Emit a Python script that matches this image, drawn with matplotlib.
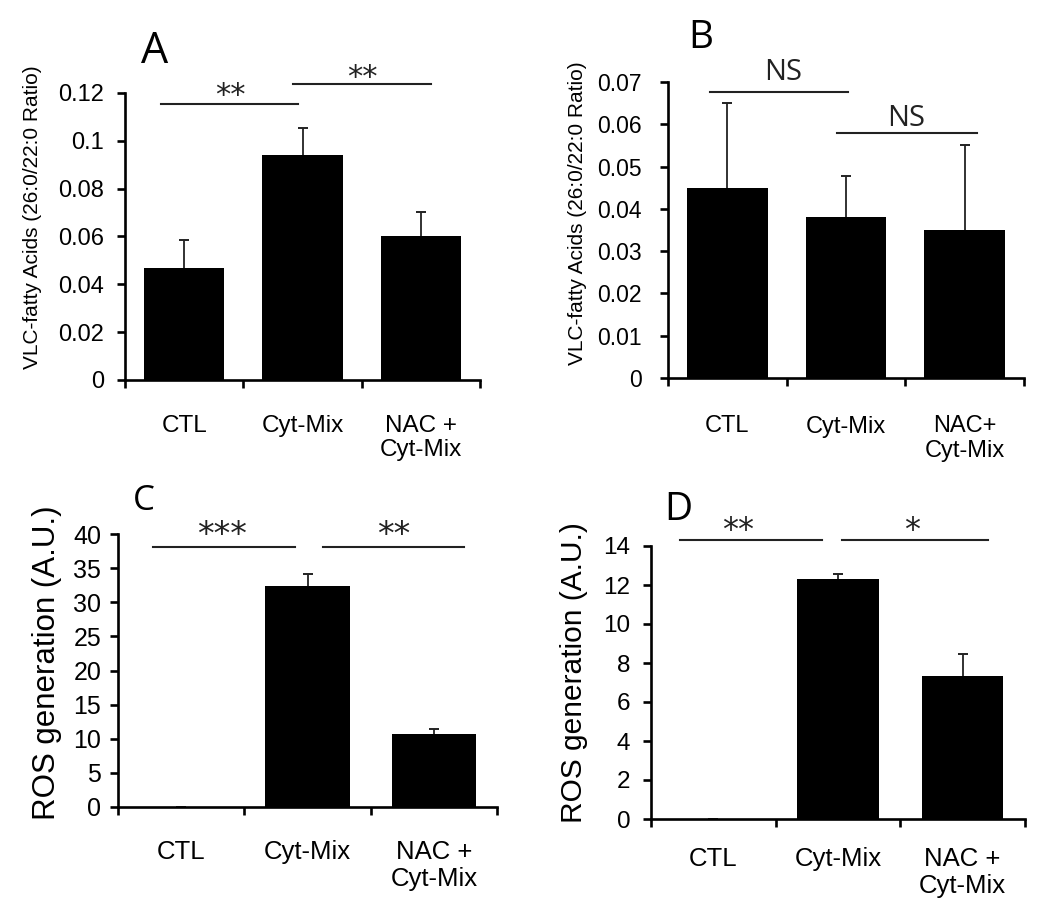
import matplotlib
matplotlib.use("Agg")
import matplotlib.pyplot as plt

plt.rcParams['font.family'] = ['Liberation Sans', 'DejaVu Sans']

# ---------------- data ----------------
groups_A = ["CTL", "Cyt-Mix", "NAC +\nCyt-Mix"]
groups_B = ["CTL", "Cyt-Mix", "NAC+\nCyt-Mix"]
groups_C = ["CTL", "Cyt-Mix", "NAC +\nCyt-Mix"]
groups_D = ["CTL", "Cyt-Mix", "NAC +\nCyt-Mix"]

vlc_A = [0.047, 0.094, 0.060]
vlc_A_err = [0.0117, 0.0114, 0.0104]
vlc_B = [0.045, 0.038, 0.035]
vlc_B_err = [0.020, 0.0097, 0.020]
ros_C = [0.0, 32.4, 10.7]
ros_C_err = [0.0, 1.7, 0.7]
ros_D = [0.0, 12.3, 7.35]
ros_D_err = [0.0, 0.26, 1.12]

yticks_A = [0, 0.02, 0.04, 0.06, 0.08, 0.1, 0.12]
yticks_B = [0, 0.01, 0.02, 0.03, 0.04, 0.05, 0.06, 0.07]
yticks_C = [0, 5, 10, 15, 20, 25, 30, 35, 40]
yticks_D = [0, 2, 4, 6, 8, 10, 12, 14]
ytlabels_A = ["0", "0.02", "0.04", "0.06", "0.08", "0.1", "0.12"]
ytlabels_B = ["0", "0.01", "0.02", "0.03", "0.04", "0.05", "0.06", "0.07"]
ytlabels_C = ["0", "5", "10", "15", "20", "25", "30", "35", "40"]
ytlabels_D = ["0", "2", "4", "6", "8", "10", "12", "14"]

ylabel_AB = "VLC-fatty Acids (26:0/22:0 Ratio)"
ylabel_CD = "ROS generation (A.U.)"

# significance annotations: start, end, height, text, text x
sig_A_x0 = [-0.20, 0.92]
sig_A_x1 = [0.96, 2.09]
sig_A_y = [0.1154, 0.1238]
sig_A_txt = ["**", "**"]
sig_A_tx = [0.39, 1.51]

sig_B_x0 = [-0.15, 0.92]
sig_B_x1 = [1.02, 2.10]
sig_B_y = [0.0676, 0.0579]
sig_B_txt = ["NS", "NS"]
sig_B_tx = [0.47, 1.51]

sig_C_x0 = [-0.22, 1.12]
sig_C_x1 = [0.90, 2.24]
sig_C_y = [38.1, 38.1]
sig_C_txt = ["***", "**"]
sig_C_tx = [0.32, 1.68]

sig_D_x0 = [-0.27, 1.03]
sig_D_x1 = [0.87, 2.20]
sig_D_y = [14.3, 14.3]
sig_D_txt = ["**", "*"]
sig_D_tx = [0.20, 1.59]

W, H = 1050, 902
fig = plt.figure(figsize=(W / 100, H / 100), dpi=100)


def rect(l, t, r, b):
    return [l / W, 1 - b / H, (r - l) / W, (b - t) / H]


def panel(box, groups, vals, errs, yt, ytl, ymax, bw, ytick_fs, xtick_fs,
          ypad, xpad, ylabel, ylab_fs, ylab_xy, sig, sig_font, sig_fs, sig_off):
    ax = fig.add_axes(rect(*box))
    x = list(range(len(groups)))
    lower = [0] * len(errs)
    ax.bar(x, vals, width=bw, color='black', zorder=2)
    _, caps, _ = ax.errorbar(x, vals, yerr=[lower, errs], fmt='none',
                             ecolor='#222222', elinewidth=1.3, capsize=3.8,
                             capthick=1.4, zorder=1)
    if len(caps) == 2:
        caps[0].set_visible(False)
    ax.set_xlim(-0.5, 2.5)
    ax.set_ylim(0, ymax)
    for s in ['top', 'right']:
        ax.spines[s].set_visible(False)
    for s in ['left', 'bottom']:
        ax.spines[s].set_linewidth(1.9)
    ax.set_yticks(yt)
    ax.set_yticklabels(ytl, fontsize=ytick_fs)
    ax.tick_params(axis='y', direction='out', length=6, width=1.9, pad=ypad)
    ax.set_xticks([-0.5, 0.5, 1.5, 2.5])
    ax.set_xticklabels([])
    ax.set_xticks(x, minor=True)
    ax.set_xticklabels(groups, minor=True, fontsize=xtick_fs, linespacing=1.15)
    ax.tick_params(axis='x', which='major', direction='out', length=6, width=1.9)
    ax.tick_params(axis='x', which='minor', length=0, pad=xpad)
    ax.set_ylabel(ylabel, fontsize=ylab_fs)
    ax.yaxis.set_label_coords(*ylab_xy)
    x0s, x1s, ys, txts, txs = sig
    for a, b, yy, t, tx, off in zip(x0s, x1s, ys, txts, txs, sig_off):
        ax.plot([a, b], [yy, yy], color='#222222', lw=1.5, clip_on=False)
        ax.annotate(t, xy=(tx, yy), xytext=(0, off), textcoords='offset points',
                    ha='center', va='baseline', fontsize=sig_fs,
                    family=sig_font, color='#222222', annotation_clip=False)
    return ax


panel((125, 93, 480, 380), groups_A, vlc_A, vlc_A_err, yticks_A, ytlabels_A,
      0.12, 0.68, 17, 17.5, 9, 25, ylabel_AB, 15, (-0.234, 0.566),
      (sig_A_x0, sig_A_x1, sig_A_y, sig_A_txt, sig_A_tx),
      'DejaVu Sans', 22, [0.0, -1.7])
panel((668, 82, 1024, 378), groups_B, vlc_B, vlc_B_err, yticks_B, ytlabels_B,
      0.07, 0.68, 16.5, 17, 13, 27, ylabel_AB, 15, (-0.228, 0.557),
      (sig_B_x0, sig_B_x1, sig_B_y, sig_B_txt, sig_B_tx),
      'Open Sans', 21, [8.6, 5.0])
panel((118, 534, 497, 807), groups_C, ros_C, ros_C_err, yticks_C, ytlabels_C,
      40, 0.67, 18, 18.5, 6, 24, ylabel_CD, 22.5, (-0.148, 0.527),
      (sig_C_x0, sig_C_x1, sig_C_y, sig_C_txt, sig_C_tx),
      'DejaVu Sans', 24, [1.4, 1.4])
panel((651, 546, 1025, 819), groups_D, ros_D, ros_D_err, yticks_D, ytlabels_D,
      14, 0.65, 17.5, 18.5, 9, 20, ylabel_CD, 21.5, (-0.168, 0.535),
      (sig_D_x0, sig_D_x1, sig_D_y, sig_D_txt, sig_D_tx),
      'DejaVu Sans', 23, [0.6, 0.6])

# panel letters
for letter, px, py, fs in [("A", 155, 63, 31), ("B", 701, 48, 28),
                           ("C", 144, 510, 25), ("D", 678, 520, 28)]:
    fig.text(px / W, 1 - py / H, letter, ha='center', va='baseline',
             fontsize=fs, family='Open Sans', color='black')

fig.savefig("out.png", dpi=100, facecolor='white')
